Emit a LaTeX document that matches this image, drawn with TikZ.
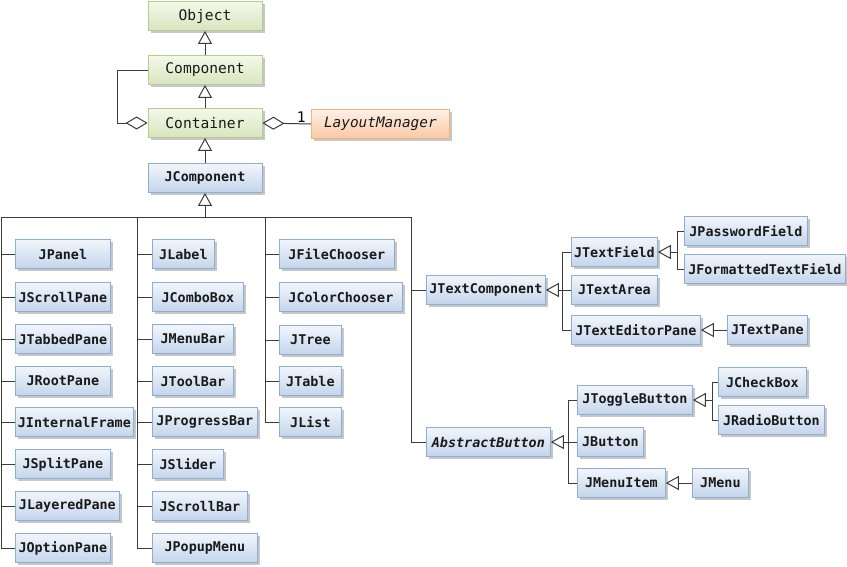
\documentclass[tikz,border=0pt]{standalone}
\usepackage{fontspec}
\setmonofont{DejaVu Sans Mono}
\usepackage{tikz}
\usetikzlibrary{arrows.meta, positioning, shadows}
\definecolor{greenedge}{HTML}{B5CC8E}
\definecolor{greentop}{HTML}{F3F8EA}
\definecolor{greenbottom}{HTML}{D8E5BE}
\definecolor{blueedge}{HTML}{8FACD3}
\definecolor{bluetop}{HTML}{F2F6FB}
\definecolor{bluebottom}{HTML}{C3D5EC}
\definecolor{orangeedge}{HTML}{F6B27E}
\definecolor{orangetop}{HTML}{FEF0E6}
\definecolor{orangebottom}{HTML}{FAC9A4}
\definecolor{textdark}{HTML}{1A1A1A}
\definecolor{linegray}{HTML}{3C3C3C}

\begin{document}
\begin{tikzpicture}[x=1pt, y=-1pt,
        box/.style={draw, minimum height=29pt, inner xsep=2pt, inner ysep=0pt,
            line width=0.8pt, text=textdark,
            font=\ttfamily\fontsize{13.4}{16}\selectfont,
            drop shadow={shadow xshift=2.5pt, shadow yshift=-2.5pt, fill=black!22, opacity=1}},
        awt/.style={box, draw=greenedge, top color=greentop, bottom color=greenbottom, minimum width=114pt,
            font=\ttfamily\fontsize{14.6}{17}\selectfont},
        swing/.style={box, draw=blueedge, top color=bluetop, bottom color=bluebottom, anchor=west,
            font=\ttfamily\bfseries\fontsize{13.4}{16}\selectfont},
        iface/.style={box, draw=orangeedge, top color=orangetop, bottom color=orangebottom, anchor=west,
            font=\ttfamily\itshape\fontsize{14.4}{17}\selectfont},
        link/.style={draw=linegray, line width=1pt},
        gen/.style={link, -{Triangle[length=13pt, width=14pt, fill=white]}},
        agg/.style={link, -{Diamond[length=22pt, width=13pt, fill=white]}}]
    \useasboundingbox (0,0) rectangle (847,566);

    % awt part
    \node[awt] (object) at (205,16) {Object};
    \node[awt] (component) at (205,70) {Component};
    \node[awt] (container) at (205,123) {Container};
    \node[swing, anchor=center, minimum width=114pt] (jcomponent) at (205,178) {JComponent};
    \node[iface, minimum width=138pt] (layoutmgr) at (311,124) {LayoutManager};

    \draw[gen] (component) -- (object);
    \draw[gen] (container) -- (component);
    \draw[gen] (jcomponent) -- (container);
    \coordinate (loop) at (117,123);
    \draw[agg] (component.west) -| (loop) -- (container.west);
    \draw[agg] (layoutmgr.west) -- (container.east)
        node[pos=0.2, above, inner sep=1pt, font=\ttfamily\fontsize{14.6}{17}\selectfont] (mult) {1};

    % first column
    \node[swing, minimum width=95pt] (jpanel) at (15,254) {JPanel};
    \node[swing, minimum width=95pt] (jscrollpane) at (15,297) {JScrollPane};
    \node[swing, minimum width=95pt] (jtabbedpane) at (15,339) {JTabbedPane};
    \node[swing, minimum width=95pt] (jrootpane) at (15,381) {JRootPane};
    \node[swing, minimum width=118pt] (jinternalframe) at (15,422) {JInternalFrame};
    \node[swing, minimum width=95pt] (jsplitpane) at (15,464) {JSplitPane};
    \node[swing, minimum width=104pt] (jlayeredpane) at (15,506) {JLayeredPane};
    \node[swing, minimum width=95pt] (joptionpane) at (15,548) {JOptionPane};

    % second column
    \node[swing, minimum width=62pt] (jlabel) at (152,254) {JLabel};
    \node[swing, minimum width=91pt] (jcombobox) at (152,297) {JComboBox};
    \node[swing, minimum width=81pt] (jmenubar) at (152,339) {JMenuBar};
    \node[swing, minimum width=81pt] (jtoolbar) at (152,381) {JToolBar};
    \node[swing, minimum width=105pt] (jprogressbar) at (152,422) {JProgressBar};
    \node[swing, minimum width=71pt] (jslider) at (152,464) {JSlider};
    \node[swing, minimum width=95pt] (jscrollbar) at (152,506) {JScrollBar};
    \node[swing, minimum width=105pt] (jpopupmenu) at (152,548) {JPopupMenu};

    % third column
    \node[swing, minimum width=115pt] (jfilechooser) at (279,254) {JFileChooser};
    \node[swing, minimum width=123pt] (jcolorchooser) at (279,297) {JColorChooser};
    \node[swing, minimum width=62pt] (jtree) at (279,340) {JTree};
    \node[swing, minimum width=62pt] (jtable) at (279,381) {JTable};
    \node[swing, minimum width=62pt] (jlist) at (279,422) {JList};

    % text and button branches
    \node[swing, minimum width=119pt] (jtextcomp) at (426,290) {JTextComponent};
    \node[swing, minimum width=124pt, font=\ttfamily\bfseries\itshape\fontsize{13.4}{16}\selectfont]
        (abstractbtn) at (426,442) {AbstractButton};

    \node[swing, minimum width=86pt] (jtextfield) at (571,252) {JTextField};
    \node[swing, minimum width=86pt] (jtextarea) at (571,290) {JTextArea};
    \node[swing, minimum width=129pt] (jtexteditor) at (571,330) {JTextEditorPane};
    \node[swing, minimum width=123pt] (jpassword) at (684,231) {JPasswordField};
    \node[swing, minimum width=161pt] (jformatted) at (684,269) {JFormattedTextField};
    \node[swing, minimum width=80pt] (jtextpane) at (727,330) {JTextPane};

    \node[swing, minimum width=115pt] (jtogglebtn) at (577,400) {JToggleButton};
    \node[swing, minimum width=66pt] (jbutton) at (577,442) {JButton};
    \node[swing, minimum width=88pt] (jmenuitem) at (577,483) {JMenuItem};
    \node[swing, minimum width=88pt] (jcheckbox) at (718,382) {JCheckBox};
    \node[swing, minimum width=106pt] (jradiobtn) at (718,420) {JRadioButton};
    \node[swing, minimum width=56pt] (jmenu) at (692,483) {JMenu};

    % bus under JComponent
    \coordinate (bus) at (205,217);
    \coordinate (busL) at (1,217);
    \coordinate (busA) at (137,217);
    \coordinate (busB) at (265,217);
    \coordinate (busR) at (411,217);
    \draw[link] (busL) -- (busR);
    \draw[gen] (bus) -- (jcomponent);

    \draw[link] (busL) |- (joptionpane.west);
    \foreach \n in {jpanel,jscrollpane,jtabbedpane,jrootpane,jinternalframe,jsplitpane,jlayeredpane}
        \draw[link] (busL |- \n.west) -- (\n.west);
    \draw[link] (busA) |- (jpopupmenu.west);
    \foreach \n in {jlabel,jcombobox,jmenubar,jtoolbar,jprogressbar,jslider,jscrollbar}
        \draw[link] (busA |- \n.west) -- (\n.west);
    \draw[link] (busB) |- (jlist.west);
    \foreach \n in {jfilechooser,jcolorchooser,jtree,jtable}
        \draw[link] (busB |- \n.west) -- (\n.west);
    \draw[link] (busR) |- (abstractbtn.west);
    \draw[link] (busR |- jtextcomp.west) -- (jtextcomp.west);

    % text components
    \coordinate (textstem) at (562,290);
    \draw[link] (jtextfield.west) -| (textstem |- jtexteditor.west) -- (jtexteditor.west);
    \draw[gen] (jtextarea.west) -- (jtextcomp.east);
    \coordinate (fieldstem) at (677,252);
    \draw[link] (jpassword.west) -| (fieldstem |- jformatted.west) -- (jformatted.west);
    \draw[gen] (fieldstem) -- (jtextfield.east);
    \draw[gen] (jtextpane) -- (jtexteditor);

    % buttons
    \coordinate (btnstem) at (568,442);
    \draw[link] (jtogglebtn.west) -| (btnstem |- jmenuitem.west) -- (jmenuitem.west);
    \draw[gen] (jbutton.west) -- (abstractbtn.east);
    \coordinate (togglestem) at (712,400);
    \draw[link] (jcheckbox.west) -| (togglestem |- jradiobtn.west) -- (jradiobtn.west);
    \draw[gen] (togglestem) -- (jtogglebtn.east);
    \draw[gen] (jmenu) -- (jmenuitem);
\end{tikzpicture}
\end{document}
